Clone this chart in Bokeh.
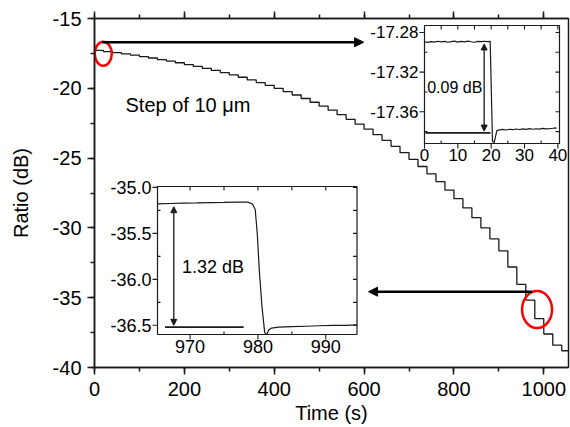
import math
from bokeh.plotting import figure
from bokeh.models import (Range1d, LinearAxis, SingleIntervalTicker, Arrow,
                          NormalHead, CustomJSTickFormatter)
from bokeh.core.properties import value
from bokeh.embed import file_html
from bokeh.resources import INLINE

FONT = "Liberation Sans"
INK = "#1a1a1a"

# ---------------- main staircase (time of each step, level after it) -------
step_t = [0, 20, 40, 60, 80, 100, 120, 140, 160, 180,
          200, 220, 240, 260, 280, 300, 320, 340, 360, 380,
          400, 420, 440, 460, 480, 500, 520, 540, 560, 580,
          600, 620, 640, 660, 680, 700, 720, 740, 760, 780,
          800, 820, 840, 860, 880, 900, 920, 940, 960, 980,
          1000, 1020, 1040, 1055]
step_v = [-17.29, -17.37, -17.45, -17.54, -17.63, -17.73, -17.83, -17.94, -18.05, -18.17,
          -18.30, -18.43, -18.57, -18.72, -18.87, -19.04, -19.21, -19.40, -19.59, -19.79,
          -20.01, -20.24, -20.48, -20.73, -21.00, -21.28, -21.57, -21.89, -22.22, -22.56,
          -22.93, -23.32, -23.73, -24.16, -24.61, -25.09, -25.60, -26.13, -26.69, -27.29,
          -27.91, -28.57, -29.27, -30.00, -30.78, -31.65, -32.80, -34.05, -35.18, -36.50,
          -37.60, -38.40, -38.80, -38.80]

# main annotations
arrow1_t = [17, 599]
arrow1_v = -16.70
arrow2_t = [974, 610]
arrow2_v = -34.57
ellipse_t = [19.5, 985]
ellipse_v = [-17.53, -35.85]
step_label = "Step of 10 μm"
step_label_t = 69
step_label_v = -21.23

# ---------------- inset 1 (0 - 40 s) ----------------------------------------
in1_t = [0.0, 1.0, 2.0, 3.0, 4.0, 5.0, 6.0, 7.0, 8.0, 9.0, 10.0, 11.0, 12.0,
         13.0, 14.0, 15.0, 16.0, 17.0, 18.0, 19.0, 19.7, 20.4, 20.9, 21.3,
         21.7, 22.5, 23.5, 24.5, 25.5, 26.5, 27.5, 28.5, 29.5, 30.5, 31.5,
         32.5, 33.5, 34.5, 35.5, 36.5, 37.5, 38.5, 39.3, 39.6]
in1_v = [-17.2895, -17.2900, -17.2892, -17.2898, -17.2889, -17.2896, -17.2890,
         -17.2899, -17.2893, -17.2888, -17.2897, -17.2891, -17.2895, -17.2887,
         -17.2894, -17.2899, -17.2890, -17.2893, -17.2889, -17.2892, -17.2890,
         -17.3900, -17.3910, -17.3850, -17.3790, -17.3782, -17.3778, -17.3784,
         -17.3776, -17.3781, -17.3774, -17.3779, -17.3772, -17.3777, -17.3770,
         -17.3776, -17.3771, -17.3775, -17.3768, -17.3773, -17.3770, -17.3766,
         -17.3762, -17.3768]
in1_xrange = [0.0, 40.5]
in1_yrange = [-17.392, -17.273]
in1_xticks = [0, 10, 20, 30, 40]
in1_xlabels = ["0", "10", "20", "30", "40"]
in1_xminor = [5, 15, 25, 35]
in1_yticks = [-17.28, -17.32, -17.36]
in1_ylabels = ["-17.28", "-17.32", "-17.36"]
in1_yminor = [-17.30, -17.34, -17.38]
in1_base_t = [0.3, 19.8]
in1_base_v = -17.3812
in1_arrow_t = 17.9
in1_arrow_v = [-17.2916, -17.3795]
in1_label = "0.09 dB"
in1_label_t = 0.8
in1_label_v = -17.3355

# ---------------- inset 2 (965 - 995 s) -------------------------------------
in2_t = [965.2, 967, 969, 971, 973, 975, 977, 978.5, 979.2, 979.6, 979.9,
         980.2, 980.6, 981.0, 981.3, 981.6, 982.0, 983, 985, 987, 989, 991,
         993, 994.6]
in2_v = [-35.18, -35.175, -35.17, -35.168, -35.165, -35.163, -35.16, -35.16,
         -35.18, -35.24, -35.5, -35.9, -36.3, -36.58, -36.6, -36.55, -36.53,
         -36.52, -36.515, -36.51, -36.505, -36.5, -36.5, -36.495]
in2_xrange = [965.2, 994.6]
in2_yrange = [-36.6, -34.99]
in2_xticks = [970, 980, 990]
in2_xlabels = ["970", "980", "990"]
in2_xminor = [975, 985]
in2_yticks = [-35.0, -35.5, -36.0, -36.5]
in2_ylabels = ["-35.0", "-35.5", "-36.0", "-36.5"]
in2_yminor = [-35.25, -35.75, -36.25]
in2_base_t = [966.3, 977.9]
in2_base_v = -36.52
in2_arrow_t = 967.6
in2_arrow_v = [-35.21, -36.50]
in2_label = "1.32 dB"
in2_label_t = 968.8
in2_label_v = -35.87

# ---------------- layout constants (picture pixels) -------------------------
W, H = 570, 427
BL, BR, BT = 94, 2, 18
FRAME_W = W - BL - BR
FRAME_H = 349
BB = H - BT - FRAME_H
FRAME_LEFT, FRAME_TOP = BL, BT
IN1_BOX = (424, 559, 25, 143)      # left, right, top, bottom
IN2_BOX = (157, 356.5, 186, 334)

p = figure(width=W, height=H, x_range=Range1d(0, 1055), y_range=Range1d(-40, -15),
           output_backend="svg", toolbar_location=None,
           min_border_left=BL, min_border_right=BR, min_border_top=BT,
           min_border_bottom=BB)
p.xgrid.visible = False
p.ygrid.visible = False
p.outline_line_color = INK
p.outline_line_width = 1.5
p.background_fill_color = "white"
p.border_fill_color = "white"

plain = CustomJSTickFormatter(code="return tick.toString()")
xt = SingleIntervalTicker(interval=200, num_minor_ticks=2)
yt = SingleIntervalTicker(interval=5, num_minor_ticks=2)
p.xaxis.ticker = xt
p.yaxis.ticker = yt
p.xaxis.formatter = plain
p.yaxis.formatter = CustomJSTickFormatter(code="return tick.toString()")
for ax in (p.xaxis[0], p.yaxis[0]):
    ax.axis_line_color = INK
    ax.axis_line_width = 1.5
    ax.major_tick_line_color = INK
    ax.minor_tick_line_color = INK
    ax.major_tick_line_width = 1.5
    ax.minor_tick_line_width = 1.5
    ax.major_tick_out = 7
    ax.major_tick_in = 0
    ax.minor_tick_out = 4
    ax.minor_tick_in = 0
    ax.major_label_text_font = FONT
    ax.major_label_text_font_size = "20px"
    ax.major_label_text_color = "black"
    ax.axis_label_text_font = FONT
    ax.axis_label_text_font_size = "20px"
    ax.axis_label_text_font_style = "normal"
    ax.axis_label_text_color = "black"
p.xaxis.axis_label = "Time (s)"
p.yaxis.axis_label = "Ratio (dB)"
p.xaxis.major_label_standoff = 7
p.xaxis.axis_label_standoff = 3
p.yaxis.major_label_standoff = 6
p.yaxis.axis_label_standoff = 18

top = LinearAxis(ticker=SingleIntervalTicker(interval=200, num_minor_ticks=2),
                 formatter=CustomJSTickFormatter(code="return ''"))
top.axis_line_color = INK
top.axis_line_width = 1.5
top.major_tick_line_color = INK
top.minor_tick_line_color = INK
top.major_tick_line_width = 1.5
top.minor_tick_line_width = 1.5
top.major_tick_out = 7
top.major_tick_in = 0
top.minor_tick_out = 4
top.minor_tick_in = 0
top.major_label_text_font_size = "0px"
top.major_label_standoff = 0
p.add_layout(top, "above")

# main staircase
p.step(x=step_t, y=step_v, mode="after", line_color=INK, line_width=1.3)

p.add_layout(Arrow(x_start=arrow1_t[0], y_start=arrow1_v, x_end=arrow1_t[1], y_end=arrow1_v,
                   line_width=2.5, line_color="black",
                   end=NormalHead(size=9, fill_color="black", line_color="black")))
p.add_layout(Arrow(x_start=arrow2_t[0], y_start=arrow2_v, x_end=arrow2_t[1], y_end=arrow2_v,
                   line_width=2.5, line_color="black",
                   end=NormalHead(size=9, fill_color="black", line_color="black")))
p.ellipse(x=ellipse_t, y=ellipse_v, width=[17, 30], height=[24, 37],
          width_units="screen", height_units="screen",
          fill_color=None, line_color="red", line_width=2.5)
p.text(x=[step_label_t], y=[step_label_v], text=[step_label], text_align="left",
       text_baseline="middle", text_font=value(FONT), text_font_size=value("20px"),
       text_color="black")


def add_ranges(name, box, xr, yr):
    l, r, t, b = box
    l -= FRAME_LEFT; r -= FRAME_LEFT; t -= FRAME_TOP; b -= FRAME_TOP
    kx = (r - l) / (xr[1] - xr[0])
    ky = (b - t) / (yr[1] - yr[0])
    ex = dict(p.extra_x_ranges); ey = dict(p.extra_y_ranges)
    ex[name] = Range1d(xr[0] - l / kx, xr[1] + (FRAME_W - r) / kx)
    ey[name] = Range1d(yr[0] - (FRAME_H - b) / ky, yr[1] + t / ky)
    p.extra_x_ranges = ex
    p.extra_y_ranges = ey


def draw_inset(name, box, xr, yr, t, v, xticks, xlabels, xminor, yticks, ylabels,
               yminor, tick_font):
    add_ranges(name, box, xr, yr)
    kw = dict(x_range_name=name, y_range_name=name)
    p.quad(left=[xr[0]], right=[xr[1]], bottom=[yr[0]], top=[yr[1]],
           fill_color="white", line_color=INK, line_width=1.2, **kw)
    rk = dict(length_units="screen", line_color=INK, line_width=1.1, **kw)
    # left: major out, minor in
    p.ray(x=[xr[0]] * len(yticks), y=yticks, length=5, angle=math.pi, **rk)
    p.ray(x=[xr[0]] * len(yminor), y=yminor, length=3, angle=0, **rk)
    # bottom: major out, minor in
    p.ray(x=xticks, y=[yr[0]] * len(xticks), length=5, angle=-math.pi / 2, **rk)
    p.ray(x=xminor, y=[yr[0]] * len(xminor), length=3, angle=math.pi / 2, **rk)
    # top / right: inward ticks
    allx = [x for x in sorted(xticks + xminor) if xr[0] < x < xr[1]]
    ally = [y for y in sorted(yticks + yminor) if yr[0] < y < yr[1]]
    p.ray(x=allx, y=[yr[1]] * len(allx), length=4, angle=-math.pi / 2, **rk)
    p.ray(x=[xr[1]] * len(ally), y=ally, length=4, angle=math.pi, **rk)
    p.text(x=[xr[0]] * len(yticks), y=yticks, text=ylabels, x_offset=-6,
           text_align="right", text_baseline="middle", text_font=value(FONT),
           text_font_size=value(tick_font), text_color="black", **kw)
    p.text(x=xticks, y=[yr[0]] * len(xticks), text=xlabels, y_offset=5,
           text_align="center", text_baseline="top", text_font=value(FONT),
           text_font_size=value(tick_font), text_color="black", **kw)
    p.line(x=t, y=v, line_color=INK, line_width=1.2, **kw)


draw_inset("in1", IN1_BOX, in1_xrange, in1_yrange, in1_t, in1_v, in1_xticks,
           in1_xlabels, in1_xminor, in1_yticks, in1_ylabels, in1_yminor, "17px")
draw_inset("in2", IN2_BOX, in2_xrange, in2_yrange, in2_t, in2_v, in2_xticks,
           in2_xlabels, in2_xminor, in2_yticks, in2_ylabels, in2_yminor, "18px")

for name, bt, bv, at, av, lab, lt, lv, fs in (
        ("in1", in1_base_t, in1_base_v, in1_arrow_t, in1_arrow_v, in1_label,
         in1_label_t, in1_label_v, "16px"),
        ("in2", in2_base_t, in2_base_v, in2_arrow_t, in2_arrow_v, in2_label,
         in2_label_t, in2_label_v, "18px")):
    kw = dict(x_range_name=name, y_range_name=name)
    p.line(x=bt, y=[bv, bv], line_color=INK, line_width=1.8, **kw)
    p.add_layout(Arrow(x_start=at, y_start=av[0], x_end=at, y_end=av[1],
                       line_width=1.3, line_color=INK,
                       start=NormalHead(size=6, fill_color=INK, line_color=INK),
                       end=NormalHead(size=6, fill_color=INK, line_color=INK), **kw))
    p.text(x=[lt], y=[lv], text=[lab], text_align="left", text_baseline="middle",
           text_font=value(FONT), text_font_size=value(fs), text_color="black", **kw)

open("out.html", "w").write(file_html(p, INLINE))
